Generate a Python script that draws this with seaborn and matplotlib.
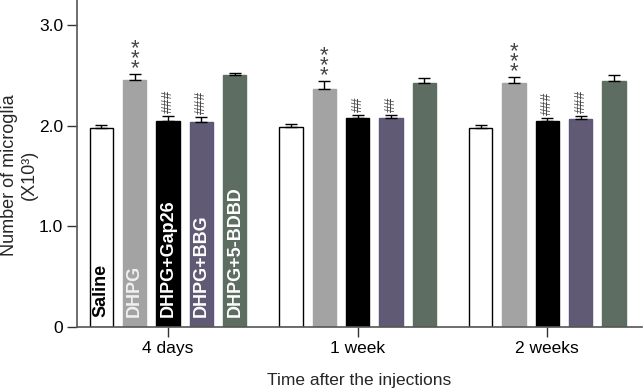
import numpy as np
import pandas as pd
import matplotlib
matplotlib.use('Agg')
import matplotlib.pyplot as plt
import seaborn as sns

sns.set_style("ticks")
plt.rcParams['font.family'] = ['Liberation Sans', 'DejaVu Sans']

# ==================== 数据 ====================
times = ['4 days', '1 week', '2 weeks']
groups = ['Saline', 'DHPG', 'DHPG+Gap26', 'DHPG+BBG', 'DHPG+5-BDBD']
colors = ['#ffffff', '#a3a3a3', '#000000', '#5d557a', '#5a7060']
label_colors = ['black', '#f0f0f0', 'white', 'white', 'white']

# mean values (X10^3), one list per group, order = times
saline = [1.98, 1.99, 1.98]
dhpg = [2.45, 2.37, 2.43]
gap26 = [2.05, 2.075, 2.05]
bbg = [2.04, 2.08, 2.07]
bdbd = [2.50, 2.43, 2.44]

saline_err = [0.03, 0.03, 0.03]
dhpg_err = [0.06, 0.07, 0.05]
gap26_err = [0.045, 0.03, 0.025]
bbg_err = [0.05, 0.03, 0.025]
bdbd_err = [0.025, 0.045, 0.06]

saline_sig = ['', '', '']
dhpg_sig = ['***', '***', '***']
gap26_sig = ['###', '##', '###']
bbg_sig = ['###', '##', '###']
bdbd_sig = ['', '', '']

means = [saline, dhpg, gap26, bbg, bdbd]
errs = [saline_err, dhpg_err, gap26_err, bbg_err, bdbd_err]
sigs = [saline_sig, dhpg_sig, gap26_sig, bbg_sig, bdbd_sig]

df = pd.DataFrame({
    'time': np.tile(times, len(groups)),
    'group': np.repeat(groups, len(times)),
    'value': np.concatenate(means),
})

# ==================== 绘图 ====================
fig = plt.figure(figsize=(6.44, 3.89), dpi=100)
ax = fig.add_axes([0.1196, 0.1594, 0.8774, 0.8406])

sns.barplot(data=df, x='time', y='value', hue='group', order=times,
            hue_order=groups, palette=colors, width=0.88, gap=0.3,
            errorbar=None, legend=False, ax=ax)

bar_containers = list(ax.containers)
for gi, cont in enumerate(bar_containers):
    for ti, bar in enumerate(cont):
        bar.set_edgecolor('black' if gi == 0 else colors[gi])
        bar.set_linewidth(1.0)
        x = bar.get_x() + bar.get_width() / 2
        h = bar.get_height()
        e = errs[gi][ti]
        ax.errorbar(x, h, yerr=[[0], [e]], fmt='none', ecolor='black',
                    elinewidth=1.0, capsize=4, capthick=1.0)
        # 显著性标记，竖直堆叠
        sym = sigs[gi][ti]
        if sym.startswith('*'):
            ax.text(x, h + e - 0.045, '\n'.join(sym), ha='center',
                    va='bottom', fontsize=16, linespacing=0.3,
                    color='#444444')
        elif sym:
            ax.text(x, h + e + 0.03, sym, rotation=90, ha='center',
                    va='bottom', fontsize=10, color='#444444')
        if ti == 0:
            ax.text(x, 0.1, groups[gi], rotation=90, ha='center', va='bottom',
                    fontsize=13, fontweight='bold', color=label_colors[gi])

ax.set_xlim(-0.48, 2.5)
ax.set_ylim(0, 3.25)
ax.set_yticks([0, 1, 2, 3])
ax.set_yticklabels(['0', '1.0', '2.0', '3.0'])
ax.tick_params(axis='both', length=7, width=1, colors='#333333',
               labelcolor='black', pad=3)
ax.tick_params(axis='y', labelsize=12.5)
ax.tick_params(axis='x', labelsize=12.5)
ax.set_xlabel('Time after the injections', fontsize=12.5, labelpad=12)
ax.set_ylabel('Number of microglia\n(X10³)', fontsize=13,
              linespacing=1.2)
ax.yaxis.set_label_coords(-0.07, 0.465)
for s in ['top', 'right']:
    ax.spines[s].set_visible(False)
for s in ['left', 'bottom']:
    ax.spines[s].set_color('#555555')
    ax.spines[s].set_linewidth(1.2)

plt.savefig('out.png', dpi=100)
